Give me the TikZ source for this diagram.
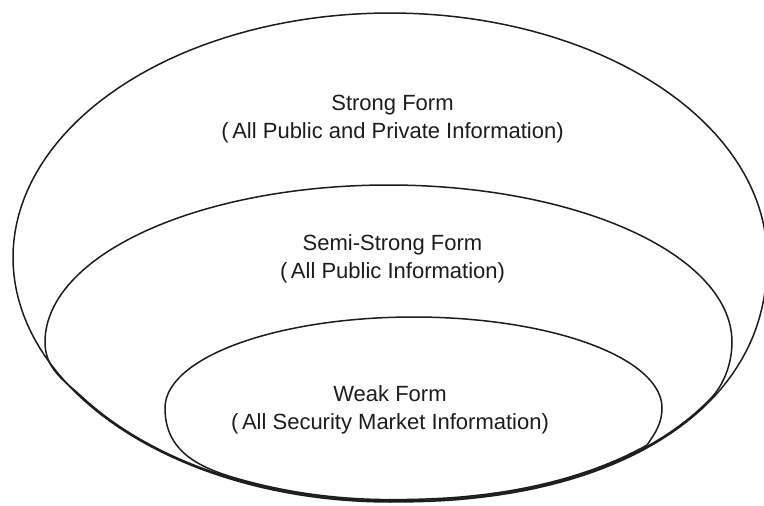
\documentclass[tikz,border=0pt]{standalone}
\usepackage{fontspec}
\setmainfont{Liberation Sans}
\definecolor{ink}{HTML}{1C1C1C}
\tikzset{
  ringline/.style={draw=ink, line width=1.5pt, line join=round},
  label/.style={text=ink, align=center, inner sep=0pt, font=\fontsize{22}{28}\selectfont}
}
\begin{document}
\begin{tikzpicture}[x=1pt,y=-1pt]
\useasboundingbox (0,0) rectangle (764,506);
% outer: Strong form
\draw[ringline] plot[variable=\t,domain=90:360,samples=136] ({390+377*cos(\t)},{257.5+244.5*sin(\t)})
  -- plot[variable=\t,domain=0.2:89.8,samples=46] ({390+377*pow(cos(\t),0.9)},{257.5+244.5*pow(sin(\t),0.9)})
  -- cycle;
% middle: Semi-strong form
\draw[ringline] (82.15,397.05) .. controls (63.8,380.1) and (45,369) .. (45,342)
  -- plot[variable=\t,domain=180:360,samples=121] ({388.5+343.5*cos(\t)},{342+157*sin(\t)})
  .. controls (732,362) and (724.7,383.9) .. (710.8,398.3)
  -- plot[variable=\t,domain=33:89.8,samples=40] ({390+375.8*pow(cos(\t),0.9)},{257.5+243.3*pow(sin(\t),0.9)})
  -- plot[variable=\t,domain=90:145,samples=40] ({390+375.8*cos(\t)},{257.5+243.3*sin(\t)})
  -- cycle;
% inner: Weak form
\draw[ringline] (231.7,476.9) .. controls (193.4,465.3) and (165,448) .. (165,408)
  -- plot[variable=\t,domain=180:360,samples=121] ({413.5+248.5*cos(\t)},{408+91*sin(\t)})
  .. controls (662,424) and (654.5,434) .. (647.1,445)
  -- plot[variable=\t,domain=48.84:89.8,samples=30] ({390+374.6*pow(cos(\t),0.9)},{257.5+242.1*pow(sin(\t),0.9)})
  -- plot[variable=\t,domain=90:115,samples=20] ({390+374.6*cos(\t)},{257.5+242.1*sin(\t)})
  -- cycle;
\node[label] (tstrong) at (392.5,119) {Strong Form\\(\,All Public and Private Information)};
\node[label] (tsemi) at (392.5,259) {Semi-Strong Form\\(\,All Public Information)};
\node[label] (tweak) at (390,410) {Weak Form\\(\,All Security Market Information)};
\end{tikzpicture}
\end{document}
